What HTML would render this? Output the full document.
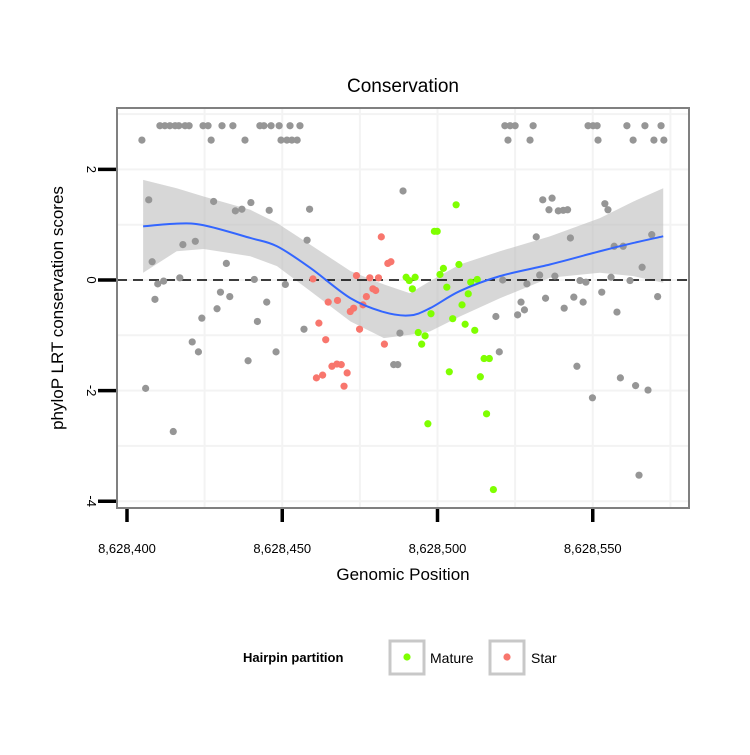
<!DOCTYPE html>
<html><head><meta charset="utf-8"><style>
body{margin:0;background:#fff;font-family:"Liberation Sans",sans-serif}
svg text{font-family:"Liberation Sans",sans-serif}
</style></head><body>
<svg id="c" width="750" height="750">
</svg>
<script>
const grayX=[10.6,12.2,13.8,15.5,16.7,18.7,20.0,24.5,26.1,30.6,34.1,42.8,44.1,46.4,49.0,52.5,55.7,121.7,123.4,125.0,130.8,148.5,150.1,151.4,161.0,166.8,172.0,
4.8,27.1,38.0,49.6,51.5,53.1,54.8,122.7,129.8,151.7,163.0,169.7,172.9,
7.0,88.9,27.9,34.9,37.0,39.9,45.8,58.8,18.0,22.0,58.0,8.1,32.0,9.9,11.8,17.0,41.0,51.0,9.0,30.1,33.1,45.0,29.0,24.1,42.0,57.0,87.9,21.0,23.0,48.0,39.0,85.9,87.2,6.0,14.9,
133.9,136.9,135.9,138.9,140.5,141.9,153.9,154.9,131.8,142.8,156.9,159.8,169.0,165.9,121.0,128.8,132.9,137.8,145.9,147.8,155.9,162.0,126.9,134.8,143.9,146.9,152.9,170.9,125.8,128.0,118.8,140.8,157.8,119.9,144.9,158.9,163.8,167.8,149.9,164.9];
const grayY=[2.79,2.79,2.79,2.79,2.79,2.79,2.79,2.79,2.79,2.79,2.79,2.79,2.79,2.79,2.79,2.79,2.79,2.79,2.79,2.79,2.79,2.79,2.79,2.79,2.79,2.79,2.79,
2.53,2.53,2.53,2.53,2.53,2.53,2.53,2.53,2.53,2.53,2.53,2.53,2.53,
1.45,1.61,1.42,1.25,1.28,1.40,1.26,1.28,0.64,0.70,0.72,0.33,0.30,-0.07,-0.02,0.04,0.01,-0.08,-0.35,-0.22,-0.30,-0.40,-0.52,-0.69,-0.75,-0.89,-0.96,-1.12,-1.30,-1.30,-1.46,-1.53,-1.53,-1.96,-2.74,
1.45,1.48,1.27,1.25,1.26,1.27,1.38,1.27,0.78,0.76,0.61,0.61,0.82,0.23,0.00,-0.07,0.09,0.07,-0.01,-0.04,0.05,-0.01,-0.40,-0.33,-0.31,-0.40,-0.22,-0.30,-0.63,-0.54,-0.66,-0.51,-0.58,-1.30,-1.56,-1.77,-1.91,-1.99,-2.13,-3.53];
const starX=[81.9,84.0,85.0,59.9,73.9,78.2,81.0,79.2,80.1,64.8,67.8,77.1,76.0,71.9,73.0,61.8,74.9,64.0,82.9,66.0,67.6,69.0,70.9,61.0,63.0,69.9];
const starY=[0.78,0.30,0.33,0.02,0.08,0.04,0.04,-0.16,-0.19,-0.40,-0.37,-0.30,-0.45,-0.57,-0.51,-0.78,-0.89,-1.08,-1.16,-1.56,-1.52,-1.53,-1.68,-1.77,-1.72,-1.92];
const matX=[106.0,99.0,99.9,106.9,101.9,100.8,89.9,90.9,92.8,112.8,110.7,91.9,103.0,109.9,107.9,97.9,104.9,108.9,112.0,93.8,96.0,94.9,115.0,116.7,103.8,113.8,115.8,96.9,118.0];
const matY=[1.36,0.88,0.88,0.28,0.21,0.10,0.05,-0.01,0.05,0.01,-0.04,-0.16,-0.13,-0.25,-0.45,-0.61,-0.70,-0.80,-0.91,-0.95,-1.01,-1.16,-1.42,-1.42,-1.66,-1.75,-2.42,-2.60,-3.79];
const smX=[5.2,16,24.7,39.7,48.3,59,72,82.7,91.1,97.6,107.2,120.1,136.2,152.3,163.1,172.7];
const smY=[0.97,1.02,0.99,0.76,0.61,0.22,-0.33,-0.58,-0.64,-0.51,-0.20,0.07,0.28,0.52,0.67,0.79];
const smHi=[1.81,1.66,1.51,1.27,1.03,0.64,0.16,-0.08,-0.24,-0.02,0.28,0.52,0.79,1.12,1.42,1.66];
const smLo=[0.13,0.52,0.56,0.43,0.25,-0.20,-0.75,-1.05,-0.99,-0.93,-0.66,-0.33,0.04,0.13,0.07,-0.05];
const xTicks=[8628400,8628450,8628500,8628550];
const yTicks=[2,0,-2,-4];
const BASE=8628400;
const sx=v=>127+v*3.105, sxa=v=>sx(v-BASE), sy=v=>280-v*55.3;
const svg=document.getElementById('c'), NS='http://www.w3.org/2000/svg';
function mk(t,a,p){const e=document.createElementNS(NS,t);for(const k in a)e.setAttribute(k,a[k]);(p||svg).appendChild(e);return e;}
const L=117,T=108,R=689,B=508;
let e;
e=mk('rect',{x:L,y:T,width:R-L,height:B-T,fill:'#fff'});


const gg=mk('g',{stroke:'#f3f3f3','stroke-width':2});


[8628425,8628475,8628525,8628575,8628450,8628500,8628550].forEach(v=>mk('line',{x1:sxa(v),x2:sxa(v),y1:T,y2:B},gg));
[3,1,-1,-3,2,0,-2,-4].forEach(v=>mk('line',{x1:L,x2:R,y1:sy(v),y2:sy(v)},gg));
// band
let d='M'+smX.map((x,i)=>sx(x)+','+sy(smHi[i])).join('L')+'L'+smX.slice().reverse().map((x,i)=>sx(x)+','+sy(smLo[smX.length-1-i])).join('L')+'Z';
e=mk('path',{d:d,fill:'#bdbdbd','fill-opacity':0.6});


e=mk('line',{x1:L,x2:R,y1:sy(0),y2:sy(0),stroke:'#000','stroke-width':1.6,'stroke-dasharray':'10,6'});


function pts(X,Y,col,name){const g=mk('g',{fill:col});
X.forEach((x,i)=>{const c=mk('circle',{cx:sx(x),cy:sy(Y[i]),r:3.6},g);});}
pts(grayX,grayY,'#969696','other-points');
pts(starX,starY,'#F8766D','star-points');
pts(matX,matY,'#7FFF00','mature-points');
// smooth line via catmull-rom
const P=smX.map((x,i)=>[sx(x),sy(smY[i])]);
let sd='M'+P[0].join(',');
for(let i=0;i<P.length-1;i++){const p0=P[Math.max(0,i-1)],p1=P[i],p2=P[i+1],p3=P[Math.min(P.length-1,i+2)];
sd+=` C${p1[0]+(p2[0]-p0[0])/6},${p1[1]+(p2[1]-p0[1])/6} ${p2[0]-(p3[0]-p1[0])/6},${p2[1]-(p3[1]-p1[1])/6} ${p2[0]},${p2[1]}`;}
e=mk('path',{d:sd,fill:'none',stroke:'#3366FF','stroke-width':2});


e=mk('rect',{x:L,y:T,width:R-L,height:B-T,fill:'none',stroke:'#808080','stroke-width':2});


xTicks.forEach(v=>{const t=mk('line',{x1:sxa(v),x2:sxa(v),y1:B+1,y2:B+14,stroke:'#000','stroke-width':3.5});
const l=mk('text',{x:sxa(v),y:553,'text-anchor':'middle','font-size':13});l.textContent=v.toLocaleString('en-US');});
yTicks.forEach(v=>{const t=mk('line',{x1:98,x2:L-1,y1:sy(v),y2:sy(v),stroke:'#000','stroke-width':3.5});
const l=mk('text',{x:0,y:0,'text-anchor':'middle','font-size':13,transform:`translate(87,${sy(v)}) rotate(90)`});l.textContent=v;});
</script>
<svg width="750" height="750" style="position:absolute;left:0;top:0">
<text x="403" y="92" text-anchor="middle" font-size="19">Conservation</text>
<text x="403" y="580" text-anchor="middle" font-size="17">Genomic Position</text>
<text transform="translate(63,308) rotate(-90)" text-anchor="middle" font-size="17">phyloP LRT conservation scores</text>
<g>
<text x="243" y="662" font-size="13" font-weight="bold">Hairpin partition</text>
<rect x="390" y="641" width="34" height="33" fill="#fff" stroke="#c8c8c8" stroke-width="3"/>
<circle cx="407" cy="657" r="3.6" fill="#7FFF00"/>
<text x="430" y="663" font-size="14">Mature</text>
<rect x="490" y="641" width="34" height="33" fill="#fff" stroke="#c8c8c8" stroke-width="3"/>
<circle cx="507" cy="657" r="3.6" fill="#F8766D"/>
<text x="531" y="663" font-size="14">Star</text>
</g>
</svg>
</body></html>
